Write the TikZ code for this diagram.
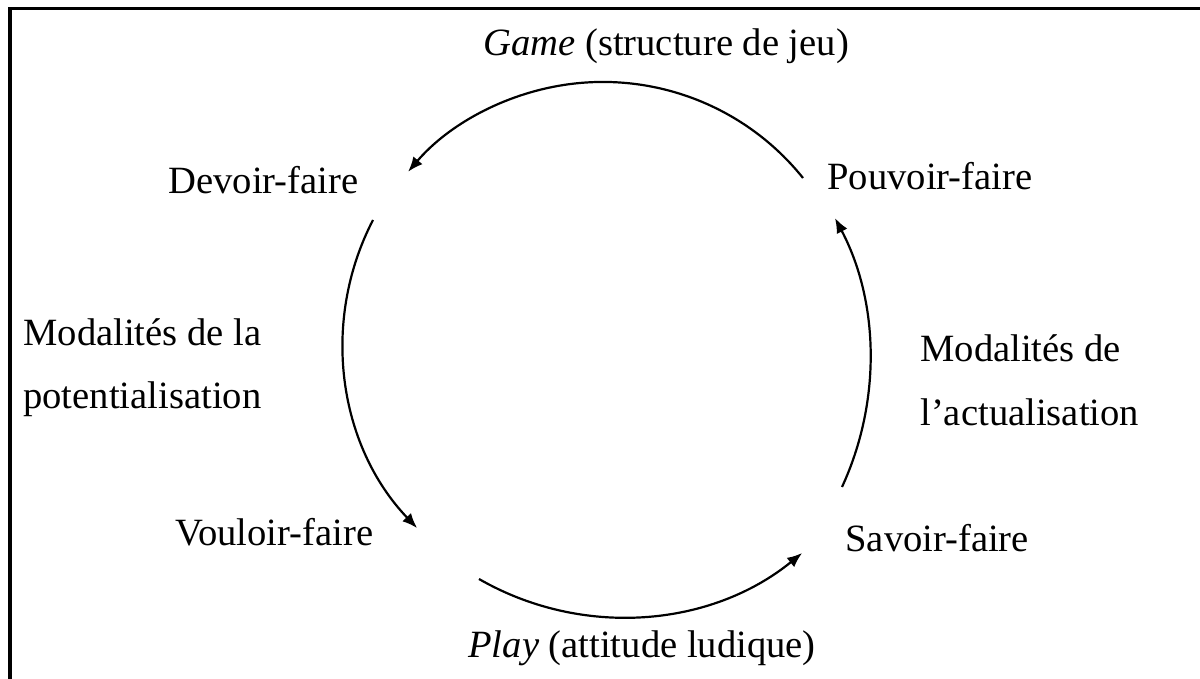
\documentclass[tikz,border=0pt]{standalone}
\usepackage{fontspec}
\setmainfont{Liberation Serif}
\usetikzlibrary{arrows.meta}
\begin{document}
\begin{tikzpicture}[x=0.5pt,y=-0.5pt,
  lbl/.style={inner sep=0pt, anchor=base west, font=\fontsize{19.3}{32}\selectfont},
  cyc/.style={line width=1.1pt, -{Latex[length=7.5pt,width=6pt]}},
  frameline/.style={line width=1.6pt}]
\useasboundingbox (0,0) rectangle (1200,679);
\fill[white] (0,0) rectangle (1200,679);
\draw[frameline] (1200,8.7) -- (10,8.7) -- (10,679);

% labels
\node[lbl] (game) at (483,56) {\textit{Game} (structure de jeu)};
\node[lbl] (devoir) at (168,194) {Devoir-faire};
\node[lbl] (pouvoir) at (827,190) {Pouvoir-faire};
\node[lbl] (pot) at (23,345) {\begin{tabular}[t]{@{}l@{}}Modalités de la\\ potentialisation\end{tabular}};
\node[lbl] (act) at (920,362) {\begin{tabular}[t]{@{}l@{}}Modalités de\\ l'actualisation\end{tabular}};
\node[lbl] (vouloir) at (175,545) {Vouloir-faire};
\node[lbl] (savoir) at (845,551) {Savoir-faire};
\node[lbl] (play) at (468,657) {\textit{Play} (attitude ludique)};

% arc start points
\coordinate (topS) at (803,178);
\coordinate (leftS) at (373,220);
\coordinate (botS) at (479,579);
\coordinate (rightS) at (842,487);

\draw[cyc] (topS) arc[start angle=38.7, end angle=139.5, radius=128.15pt];
\draw[cyc] (leftS) arc[start angle=152.6, end angle=223.7, radius=133.85pt];
\draw[cyc] (botS) arc[start angle=240.1, end angle=309.1, radius=143.1pt];
\draw[cyc] (rightS) arc[start angle=335.2, end angle=387.8, radius=151.85pt];
\end{tikzpicture}
\end{document}
